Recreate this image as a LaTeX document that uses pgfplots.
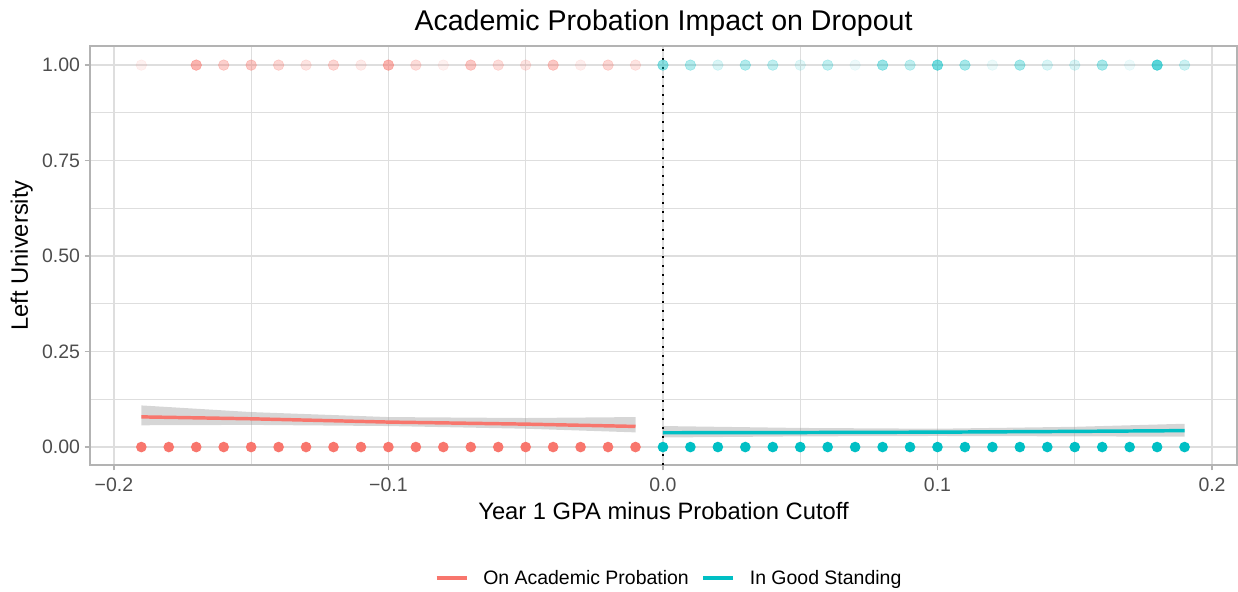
\documentclass[border=0pt]{standalone}
\usepackage{pgfplots}
\pgfplotsset{compat=1.18}
\usepackage{pgfplotstable}
\usepackage{fontspec}
\setmainfont{Liberation Sans}
\definecolor{cred}{HTML}{F8766D}
\definecolor{cteal}{HTML}{00BFC4}
\definecolor{gridc}{HTML}{DEDEDE}
\definecolor{borderc}{HTML}{B3B3B3}
\definecolor{tickc}{HTML}{4D4D4D}

% dropouts (y = 1) with visual density as alpha
\pgfplotstableread{
x a
-0.19 0.10
-0.17 0.55
-0.16 0.35
-0.15 0.40
-0.14 0.30
-0.13 0.20
-0.12 0.30
-0.11 0.15
-0.10 0.55
-0.09 0.25
-0.08 0.10
-0.07 0.40
-0.06 0.25
-0.05 0.20
-0.04 0.40
-0.03 0.12
-0.02 0.30
-0.01 0.20
}\redtop
\pgfplotstableread{
x a
0.00 0.45
0.01 0.30
0.02 0.15
0.03 0.30
0.04 0.25
0.05 0.12
0.06 0.25
0.07 0.07
0.08 0.40
0.09 0.25
0.10 0.55
0.11 0.35
0.12 0.08
0.13 0.35
0.14 0.15
0.15 0.15
0.16 0.35
0.17 0.07
0.18 0.65
0.19 0.20
}\tealtop

\pgfplotsset{
  alphapts/.style={scatter, only marks, mark=*, mark size=4pt,
    point meta=explicit symbolic,
    scatter/@pre marker code/.code={\scope[opacity=\pgfplotspointmeta]},
    scatter/@post marker code/.code={\endscope}},
}

\begin{document}
\begin{tikzpicture}
\begin{axis}[name=ax, scale only axis, width=860.25pt, height=314.25pt,
  xmin=-0.2087, xmax=0.2091, ymin=-0.047, ymax=1.05,
  axis line style={borderc, line width=2pt},
  xtick={-0.2,-0.1,0,0.1,0.2}, xticklabels={−0.2,−0.1,0.0,0.1,0.2},
  ytick={0,0.25,0.5,0.75,1}, yticklabels={0.00,0.25,0.50,0.75,1.00},
  minor xtick={-0.15,-0.05,0.05,0.15}, minor ytick={0.125,0.375,0.625,0.875},
  grid=both, major grid style={gridc, line width=1.1pt},
  minor grid style={gridc, line width=0.55pt},
  tick align=outside, major tick length=4pt, minor tick length=0pt,
  major tick style={borderc, line width=1.1pt},
  xtick pos=bottom, ytick pos=left,
  ticklabel style={font=\fontsize{14.6}{17}\selectfont, text=tickc},
  xticklabel style={yshift=-2.5pt},
  legend style={at={(0.5052,0)}, anchor=center, yshift=-84.75pt, draw=none, fill=none,
    legend columns=2, font=\fontsize{14.6}{17}\selectfont,
    /tikz/every odd column/.append style={column sep=9.25pt},
    /tikz/every even column/.append style={column sep=7.5pt}},
  legend image code/.code={\draw[#1, line width=2.5pt] (0pt,0pt) -- (22.5pt,0pt);},
]
% points
\addplot[alphapts, forget plot, cred, mark options={draw opacity=0, fill=cred}] table[x=x, y expr=1, meta=a] {\redtop};
\addplot[alphapts, forget plot, cteal, mark options={draw opacity=0, fill=cteal}] table[x=x, y expr=1, meta=a] {\tealtop};
\addplot[only marks, forget plot, cred, mark=*, mark size=4pt, mark options={draw opacity=0, fill=cred}] coordinates {
(-0.19,0) (-0.18,0) (-0.17,0) (-0.16,0) (-0.15,0) (-0.14,0) (-0.13,0) (-0.12,0) (-0.11,0) (-0.10,0)
(-0.09,0) (-0.08,0) (-0.07,0) (-0.06,0) (-0.05,0) (-0.04,0) (-0.03,0) (-0.02,0) (-0.01,0)};
\addplot[only marks, forget plot, cteal, mark=*, mark size=4pt, mark options={draw opacity=0, fill=cteal}] coordinates {
(0.00,0) (0.01,0) (0.02,0) (0.03,0) (0.04,0) (0.05,0) (0.06,0) (0.07,0) (0.08,0) (0.09,0)
(0.10,0) (0.11,0) (0.12,0) (0.13,0) (0.14,0) (0.15,0) (0.16,0) (0.17,0) (0.18,0) (0.19,0)};
% confidence bands
\addplot[forget plot, draw=none, fill=black!40, fill opacity=0.4] coordinates {
(-0.19,0.109) (-0.15,0.0916) (-0.10,0.0785) (-0.05,0.076) (-0.01,0.0785)
(-0.01,0.0384) (-0.05,0.048) (-0.10,0.055) (-0.15,0.058) (-0.19,0.057)} -- cycle;
\addplot[forget plot, draw=none, fill=black!40, fill opacity=0.4] coordinates {
(0.00,0.055) (0.05,0.050) (0.10,0.048) (0.15,0.053) (0.19,0.061)
(0.19,0.027) (0.15,0.028) (0.10,0.029) (0.05,0.028) (0.00,0.025)} -- cycle;
% fitted lines
\addplot[cred, line width=2.6pt] coordinates {
(-0.19,0.079) (-0.15,0.074) (-0.10,0.0654) (-0.05,0.060) (-0.01,0.054)};
\addlegendentry{On Academic Probation}
\addplot[cteal, line width=2.6pt] coordinates {
(0.00,0.0374) (0.05,0.038) (0.10,0.039) (0.15,0.041) (0.19,0.043)};
\addlegendentry{In Good Standing}
% cutoff
\addplot[forget plot, black, line width=1.5pt, dash pattern=on 1.5pt off 5.25pt] coordinates {(0,-0.047) (0,1.05)};
\end{axis}
\node[anchor=base, font=\fontsize{21.4}{25}\selectfont] at ([yshift=11.25pt]ax.north) {Academic Probation Impact on Dropout};
\node[anchor=base, font=\fontsize{17.8}{21}\selectfont] at ([yshift=-41.25pt]ax.south) {Year 1 GPA minus Probation Cutoff};
\node[rotate=90, anchor=base, font=\fontsize{17.8}{21}\selectfont] at ([xshift=-46.5pt]ax.west) {Left University};
\pgfresetboundingbox
\path[use as bounding box] ([xshift=-67.5pt,yshift=-95.25pt]ax.south west) rectangle ([xshift=0.75pt,yshift=34.5pt]ax.north east);
\end{tikzpicture}
\end{document}
